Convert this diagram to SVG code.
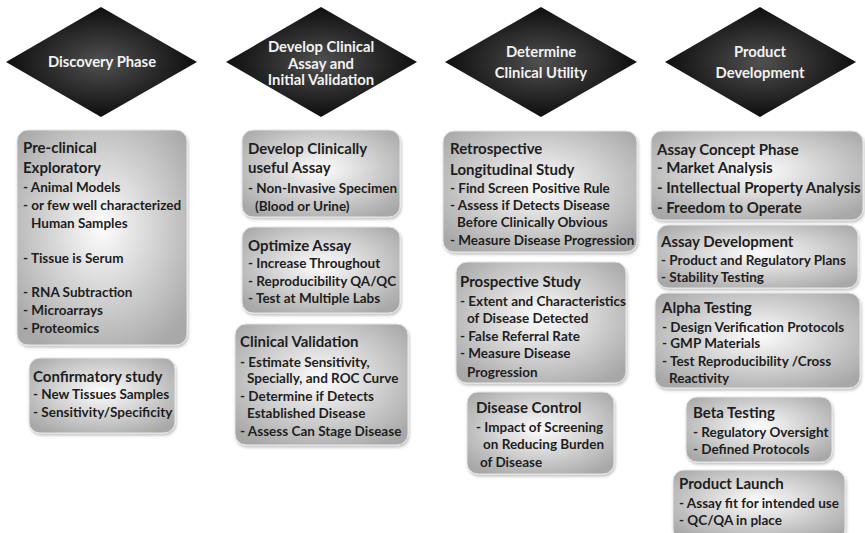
<svg xmlns="http://www.w3.org/2000/svg" width="865" height="533" viewBox="0 0 865 533">
<defs>
  <radialGradient id="dg" cx="50%" cy="50%" r="50%">
    <stop offset="0" stop-color="#505050"/>
    <stop offset="1" stop-color="#0e0e0e"/>
  </radialGradient>
  <radialGradient id="bg" cx="50%" cy="45%" r="65%">
    <stop offset="0" stop-color="#fdfdfd"/>
    <stop offset="1" stop-color="#a8a8a8"/>
  </radialGradient>
  <filter id="sh" x="-10%" y="-10%" width="120%" height="120%">
    <feGaussianBlur in="SourceAlpha" stdDeviation="1.5"/>
    <feOffset dx="1" dy="1.5"/>
    <feComponentTransfer><feFuncA type="linear" slope="0.25"/></feComponentTransfer>
    <feMerge><feMergeNode/><feMergeNode in="SourceGraphic"/></feMerge>
  </filter>
</defs>
<style>
  .dia { fill: url(#dg); }
  .box { fill: url(#bg); stroke: #e6e6e6; stroke-width: 1; filter: url(#sh); }
  .ht { font-family: Lato, "Liberation Sans", sans-serif; font-weight: bold; font-size: 14.8px; fill: #f2f2f2; text-anchor: middle; }
  .t { font-family: Lato, "Liberation Sans", sans-serif; font-weight: bold; font-size: 13.5px; fill: #1e1e1e; }
  .tt { font-size: 15px; }
</style>
<rect width="865" height="533" fill="#ffffff"/>

<g id="phase-discovery">
  <polygon class="dia" points="101,7 197,62 101,117 6,62"/>
  <text class="ht" x="102" y="67">Discovery Phase</text>
</g>
<g id="phase-develop">
  <polygon class="dia" points="321,7 417,62 321,117 226,62"/>
  <text class="ht" x="321" y="52">Develop Clinical</text>
  <text class="ht" x="321" y="68.5">Assay and</text>
  <text class="ht" x="321" y="85">Initial Validation</text>
</g>
<g id="phase-utility">
  <polygon class="dia" points="541,7 637,62 541,117 445,62"/>
  <text class="ht" x="541" y="57">Determine</text>
  <text class="ht" x="541" y="78">Clinical Utility</text>
</g>
<g id="phase-product">
  <polygon class="dia" points="760,7 856,62 760,117 665,62"/>
  <text class="ht" x="760" y="57">Product</text>
  <text class="ht" x="760" y="78">Development</text>
</g>

<g id="connectors"></g>

<g id="preclinical">
  <rect class="box" x="17" y="130" width="170" height="215" rx="11"/>
  <text class="t tt" x="23" y="153">Pre-clinical</text>
  <text class="t tt" x="23" y="173">Exploratory</text>
  <text class="t" x="23" y="192">- Animal Models</text>
  <text class="t" x="23" y="210">- or few well characterized</text>
  <text class="t" x="31" y="228">Human Samples</text>
  <text class="t" x="23" y="263">- Tissue is Serum</text>
  <text class="t" x="23" y="297">- RNA Subtraction</text>
  <text class="t" x="23" y="315">- Microarrays</text>
  <text class="t" x="23" y="333">- Proteomics</text>
</g>
<g id="confirmatory">
  <rect class="box" x="29" y="358" width="146" height="75" rx="11"/>
  <text class="t tt" x="33" y="382">Confirmatory study</text>
  <text class="t" x="33" y="399">- New Tissues Samples</text>
  <text class="t" x="33" y="417">- Sensitivity/Specificity</text>
</g>

<g id="develop-assay">
  <rect class="box" x="242" y="130" width="158" height="87" rx="11"/>
  <text class="t tt" x="248" y="154">Develop Clinically</text>
  <text class="t tt" x="248" y="173">useful Assay</text>
  <text class="t" x="248" y="193">- Non-Invasive Specimen</text>
  <text class="t" x="255" y="211">(Blood or Urine)</text>
</g>
<g id="optimize-assay">
  <rect class="box" x="242" y="227" width="158" height="86" rx="11"/>
  <text class="t tt" x="248" y="251">Optimize Assay</text>
  <text class="t" x="248" y="268">- Increase Throughout</text>
  <text class="t" x="248" y="286">- Reproducibility QA/QC</text>
  <text class="t" x="248" y="303">- Test at Multiple Labs</text>
</g>
<g id="clinical-validation">
  <rect class="box" x="235" y="324" width="173" height="121" rx="11"/>
  <text class="t tt" x="240" y="347">Clinical Validation</text>
  <text class="t" x="240" y="367">- Estimate Sensitivity,</text>
  <text class="t" x="247" y="383">Specially, and ROC Curve</text>
  <text class="t" x="240" y="401">- Determine if Detects</text>
  <text class="t" x="247" y="418">Established Disease</text>
  <text class="t" x="240" y="436">- Assess Can Stage Disease</text>
</g>

<g id="retrospective">
  <rect class="box" x="443" y="131" width="194" height="121" rx="11"/>
  <text class="t tt" x="450" y="154">Retrospective</text>
  <text class="t tt" x="450" y="175">Longitudinal Study</text>
  <text class="t" x="450" y="193">- Find Screen Positive Rule</text>
  <text class="t" x="450" y="210">- Assess if Detects Disease</text>
  <text class="t" x="457" y="227">Before Clinically Obvious</text>
  <text class="t" x="450" y="245">- Measure Disease Progression</text>
</g>
<g id="prospective">
  <rect class="box" x="456" y="262" width="170" height="121" rx="11"/>
  <text class="t tt" x="460" y="287">Prospective Study</text>
  <text class="t" x="460" y="306">- Extent and Characteristics</text>
  <text class="t" x="467" y="323">of Disease Detected</text>
  <text class="t" x="460" y="341">- False Referral Rate</text>
  <text class="t" x="460" y="358">- Measure Disease</text>
  <text class="t" x="467" y="377">Progression</text>
</g>
<g id="disease-control">
  <rect class="box" x="467" y="392" width="147" height="82" rx="11"/>
  <text class="t tt" x="476" y="413">Disease Control</text>
  <text class="t" x="476" y="432">- Impact of Screening</text>
  <text class="t" x="483" y="449">on Reducing Burden</text>
  <text class="t" x="480" y="467">of Disease</text>
</g>

<g id="assay-concept">
  <rect class="box" x="651" y="131" width="212" height="89" rx="11"/>
  <text class="t tt" x="657" y="155">Assay Concept Phase</text>
  <text class="t tt" x="657" y="173">- Market Analysis</text>
  <text class="t tt" x="657" y="193">- Intellectual Property Analysis</text>
  <text class="t tt" x="657" y="213">- Freedom to Operate</text>
</g>
<g id="assay-development">
  <rect class="box" x="657" y="225" width="201" height="63" rx="11"/>
  <text class="t tt" x="661" y="247">Assay Development</text>
  <text class="t" x="661" y="265">- Product and Regulatory Plans</text>
  <text class="t" x="661" y="282">- Stability Testing</text>
</g>
<g id="alpha-testing">
  <rect class="box" x="655" y="293" width="205" height="95" rx="11"/>
  <text class="t tt" x="662" y="313">Alpha Testing</text>
  <text class="t" x="662" y="332">- Design Verification Protocols</text>
  <text class="t" x="662" y="348">- GMP Materials</text>
  <text class="t" x="662" y="366">- Test Reproducibility /Cross</text>
  <text class="t" x="669" y="383">Reactivity</text>
</g>
<g id="beta-testing">
  <rect class="box" x="686" y="397" width="146" height="65" rx="11"/>
  <text class="t tt" x="693" y="418">Beta Testing</text>
  <text class="t" x="693" y="437">- Regulatory Oversight</text>
  <text class="t" x="693" y="454">- Defined Protocols</text>
</g>
<g id="product-launch">
  <rect class="box" x="673" y="470" width="172" height="70" rx="11"/>
  <text class="t tt" x="679" y="489">Product Launch</text>
  <text class="t" x="679" y="508">- Assay fit for intended use</text>
  <text class="t" x="679" y="525">- QC/QA in place</text>
</g>
</svg>
